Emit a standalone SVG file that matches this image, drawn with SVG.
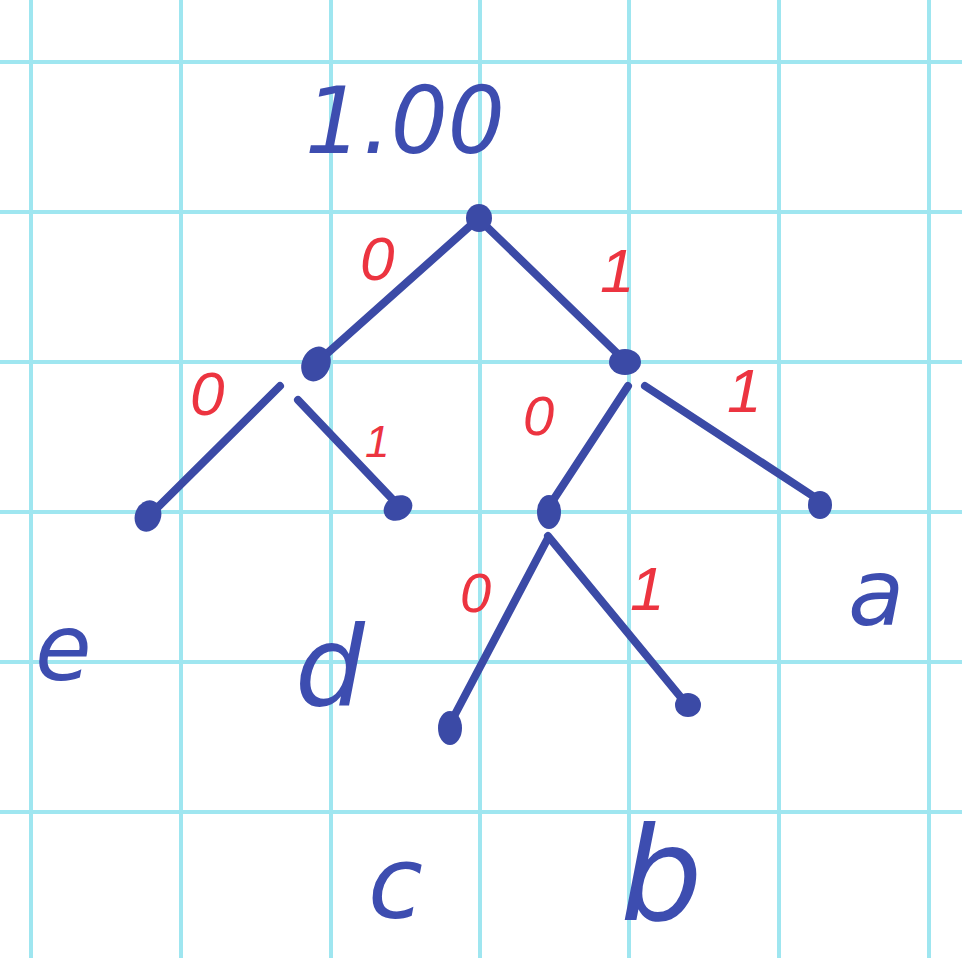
<svg xmlns="http://www.w3.org/2000/svg" width="962" height="958" viewBox="0 0 962 958">
<style>
.grid line{stroke:#9fe6f0;stroke-width:4}
.edge{stroke:#3b4aa6;stroke-width:8;stroke-linecap:round;fill:none}
.dot{fill:#3b4aa6}
.bit{fill:#ec3440;font-family:"Liberation Sans",sans-serif;font-style:italic}
.lbl{fill:#3d4db0;font-family:"DejaVu Sans",sans-serif;font-style:italic}
</style>
<rect width="962" height="958" fill="#ffffff"/>
<g class="grid">
<line x1="31" y1="0" x2="31" y2="958"/><line x1="181" y1="0" x2="181" y2="958"/><line x1="331" y1="0" x2="331" y2="958"/><line x1="480" y1="0" x2="480" y2="958"/><line x1="629" y1="0" x2="629" y2="958"/><line x1="779" y1="0" x2="779" y2="958"/><line x1="929" y1="0" x2="929" y2="958"/>
<line x1="0" y1="62" x2="962" y2="62"/><line x1="0" y1="212" x2="962" y2="212"/><line x1="0" y1="362" x2="962" y2="362"/><line x1="0" y1="512" x2="962" y2="512"/><line x1="0" y1="662" x2="962" y2="662"/><line x1="0" y1="812" x2="962" y2="812"/>
</g>
<g id="connectors">
<path class="edge" d="M470 226 L322 358"/>
<path class="edge" d="M486 226 L620 356"/>
<path class="edge" d="M280 386 L150 515"/>
<path class="edge" d="M298 400 L397 504"/>
<path class="edge" d="M628 386 L548 508"/>
<path class="edge" d="M645 386 L819 500"/>
<path class="edge" d="M548 538 L451 722"/>
<path class="edge" d="M548 536 L688 706"/>
</g>
<g id="root"><ellipse class="dot" cx="479" cy="218" rx="13" ry="14"/><text class="lbl" x="305" y="153" font-size="92" textLength="200" lengthAdjust="spacingAndGlyphs">1.00</text></g>
<g id="n0"><ellipse class="dot" cx="316" cy="364" rx="14" ry="18" transform="rotate(25 316 364)"/></g>
<g id="n1"><ellipse class="dot" cx="625" cy="362" rx="16" ry="13"/></g>
<g id="leaf-e"><ellipse class="dot" cx="148" cy="516" rx="13" ry="16" transform="rotate(20 148 516)"/><text class="lbl" x="35" y="680" font-size="92">e</text></g>
<g id="leaf-d"><ellipse class="dot" cx="398" cy="508" rx="15" ry="12" transform="rotate(-30 398 508)"/><text class="lbl" x="295" y="705" font-size="110">d</text></g>
<g id="n10"><ellipse class="dot" cx="549" cy="512" rx="12" ry="17"/></g>
<g id="leaf-a"><ellipse class="dot" cx="820" cy="505" rx="12" ry="14"/><text class="lbl" x="848" y="625" font-size="92">a</text></g>
<g id="leaf-c"><ellipse class="dot" cx="450" cy="728" rx="12" ry="17"/><text class="lbl" x="368" y="918" font-size="100">c</text></g>
<g id="leaf-b"><ellipse class="dot" cx="688" cy="705" rx="13" ry="12"/><text class="lbl" x="620" y="920" font-size="130">b</text></g>
<g id="bits">
<text class="bit" x="360" y="280" font-size="62">0</text>
<text class="bit" x="600" y="292" font-size="62">1</text>
<text class="bit" x="190" y="415" font-size="62">0</text>
<text class="bit" x="365" y="457" font-size="44">1</text>
<text class="bit" x="523" y="435" font-size="56">0</text>
<text class="bit" x="727" y="412" font-size="62">1</text>
<text class="bit" x="460" y="612" font-size="56">0</text>
<text class="bit" x="630" y="610" font-size="62">1</text>
</g>
</svg>
